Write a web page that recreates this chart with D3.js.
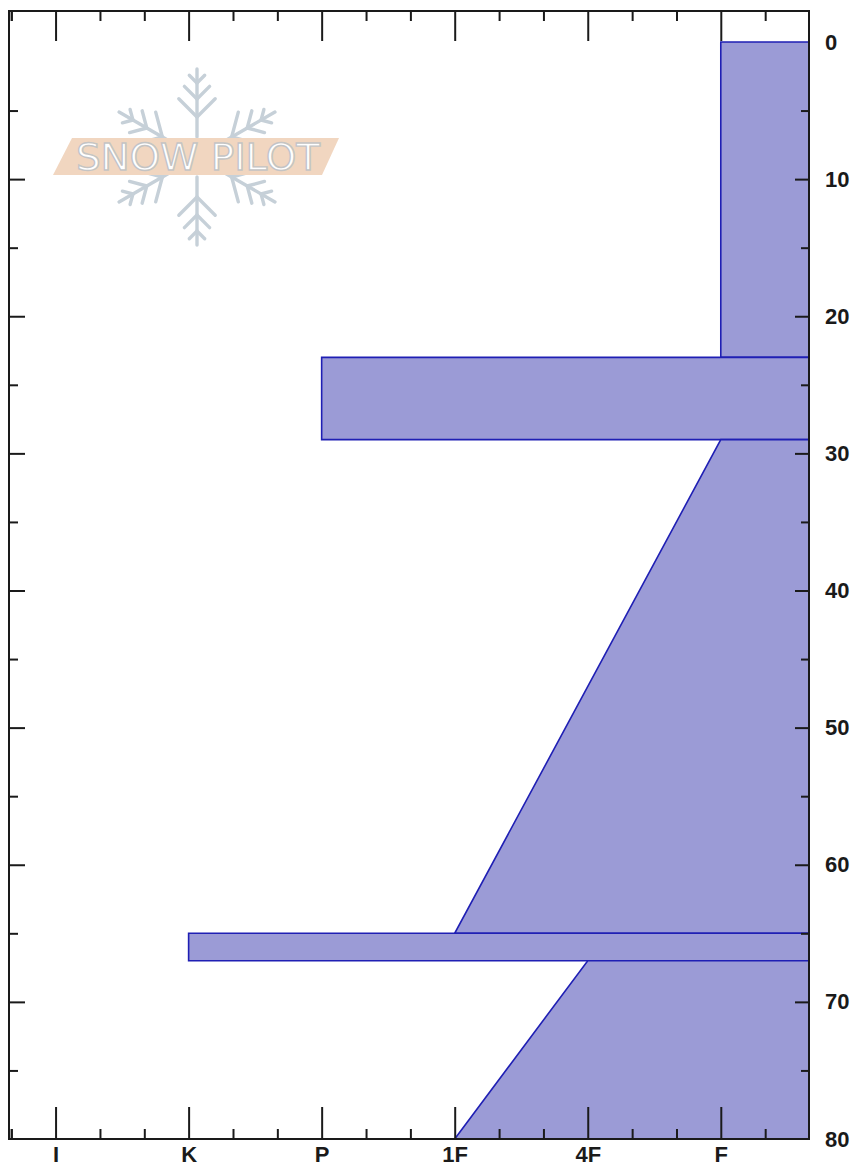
<!DOCTYPE html>
<html>
<head>
<meta charset="utf-8">
<script src="https://cdn.jsdelivr.net/npm/d3@7"></script>
<style>
  body { margin: 0; background: #fff; }
  svg { display: block; }
</style>
</head>
<body>
<div id="graph"></div>
<script>
// layers, depth in cm from the top of the pit
const layerTop = [0, 23, 29, 65, 67];
const layerBottom = [23, 29, 65, 67, 80];
const hardnessTop = ["F", "P", "F", "K", "4F"];
const hardnessBottom = ["F", "P", "1F", "K", "1F"];

const hardnessLabels = ["I", "K", "P", "1F", "4F", "F"];
const hardnessIndex = {I: 6, K: 5, P: 4, "1F": 3, "4F": 2, F: 1};
const depthLabels = [0, 10, 20, 30, 40, 50, 60, 70, 80];

const width = 857, height = 1167;
const plotLeft = 9, plotRight = 809, plotTop = 11, plotBottom = 1139;

const x = d3.scaleLinear().domain([6.35, 0.337]).range([plotLeft, plotRight]);
const y = d3.scaleLinear().domain([-2.26, 80]).range([plotTop, plotBottom]);

const svg = d3.select("#graph").append("svg")
    .attr("width", width)
    .attr("height", height);

// snow pilot watermark
function drawLogo(g) {
  const cx = 197, cy = 157;
  const flake = g.append("g")
      .attr("stroke", "#c6d0d8")
      .attr("stroke-width", 3.4)
      .attr("stroke-linecap", "round")
      .attr("fill", "none");
  [90, 30, 150, 210, 270, 330].forEach(a => {
    const r = a * Math.PI / 180;
    const ux = Math.cos(r), uy = -Math.sin(r);
    const px = -uy, py = ux;
    const len = a === 90 || a === 270 ? 88 : 90;
    flake.append("line")
        .attr("x1", cx + ux * 20).attr("y1", cy + uy * 20)
        .attr("x2", cx + ux * len).attr("y2", cy + uy * len);
    [[40, 26], [58, 18], [74, 11]].forEach(([d, l]) => {
      const bx = cx + ux * d, by = cy + uy * d;
      [1, -1].forEach(s => {
        flake.append("line")
            .attr("x1", bx).attr("y1", by)
            .attr("x2", bx + (ux + s * px) * l * 0.7)
            .attr("y2", by + (uy + s * py) * l * 0.7);
      });
    });
  });
  g.append("path")
      .attr("d", "M72,138 L339,138 L322,175 L53,175 Z")
      .attr("fill", "#f1d6c0");
  g.append("text")
      .attr("x", 76)
      .attr("y", 170)
      .attr("font-family", "DejaVu Sans")
      .attr("font-size", 37)
      .attr("textLength", 244)
      .attr("lengthAdjust", "spacingAndGlyphs")
      .attr("fill", "#ffffff")
      .attr("stroke", "#c4c4c4")
      .attr("stroke-width", 1.4)
      .text("SNOW PILOT");
}
drawLogo(svg.append("g"));

// hardness profile
const layers = layerTop.map((t, i) => ({
  top: t,
  bottom: layerBottom[i],
  hTop: hardnessIndex[hardnessTop[i]],
  hBottom: hardnessIndex[hardnessBottom[i]]
}));

svg.append("g")
  .selectAll("path")
  .data(layers)
  .join("path")
    .attr("d", d => d3.line()([
      [x(d.hTop), y(d.top)],
      [x.range()[1], y(d.top)],
      [x.range()[1], y(d.bottom)],
      [x(d.hBottom), y(d.bottom)]
    ]) + "Z")
    .attr("fill", "#9b9bd6")
    .attr("stroke", "#1f1fb4")
    .attr("stroke-width", 1.6)
    .attr("stroke-linejoin", "miter");

// ticks
const majorX = d3.range(1, 7);
const minorX = d3.range(1, 19).map(i => i / 3 + 0.333).filter(v => Math.abs(v - Math.round(v)) > 0.1).concat([6.333]);
const majorY = d3.range(10, 80, 10);
const minorY = d3.range(5, 80, 10);

function tickAxis(axis, scale, values, size) {
  return axis(scale).tickValues(values).tickSize(size).tickFormat("");
}

const axes = svg.append("g").attr("stroke-width", 2);

axes.append("g").attr("transform", `translate(0,${plotBottom})`)
    .call(tickAxis(d3.axisBottom, x, majorX, -32));
axes.append("g").attr("transform", `translate(0,${plotBottom})`)
    .call(tickAxis(d3.axisBottom, x, minorX, -10));
axes.append("g").attr("transform", `translate(0,${plotTop})`)
    .call(tickAxis(d3.axisTop, x, majorX, -30));
axes.append("g").attr("transform", `translate(0,${plotTop})`)
    .call(tickAxis(d3.axisTop, x, minorX, -10));
axes.append("g").attr("transform", `translate(${plotLeft},0)`)
    .call(tickAxis(d3.axisLeft, y, majorY, -16));
axes.append("g").attr("transform", `translate(${plotLeft},0)`)
    .call(tickAxis(d3.axisLeft, y, minorY, -9));
axes.append("g").attr("transform", `translate(${plotRight},0)`)
    .call(tickAxis(d3.axisRight, y, majorY, -14));
axes.append("g").attr("transform", `translate(${plotRight},0)`)
    .call(tickAxis(d3.axisRight, y, minorY, -8));

axes.selectAll("path.domain").remove();
axes.selectAll(".tick line").attr("stroke", "#1a1a1a").attr("stroke-width", 2);

// labels
const bottomLabels = svg.append("g")
    .attr("transform", `translate(0,${plotBottom})`)
    .call(d3.axisBottom(x)
      .tickValues(hardnessLabels.map(h => hardnessIndex[h]))
      .tickFormat(v => hardnessLabels.find(h => hardnessIndex[h] === v))
      .tickSize(0)
      .tickPadding(7));

const rightLabels = svg.append("g")
    .attr("transform", `translate(${plotRight},0)`)
    .call(d3.axisRight(y)
      .tickValues(depthLabels)
      .tickSize(0)
      .tickPadding(16));

[bottomLabels, rightLabels].forEach(g => {
  g.select("path.domain").remove();
  g.selectAll("text")
      .attr("font-family", "Liberation Sans, Arial, sans-serif")
      .attr("font-size", 22)
      .attr("font-weight", "bold")
      .attr("fill", "#1a1a1a");
});

// frame
svg.append("rect")
    .attr("x", plotLeft)
    .attr("y", plotTop)
    .attr("width", plotRight - plotLeft)
    .attr("height", plotBottom - plotTop)
    .attr("fill", "none")
    .attr("stroke", "#1a1a1a")
    .attr("stroke-width", 2);
</script>
</body>
</html>
